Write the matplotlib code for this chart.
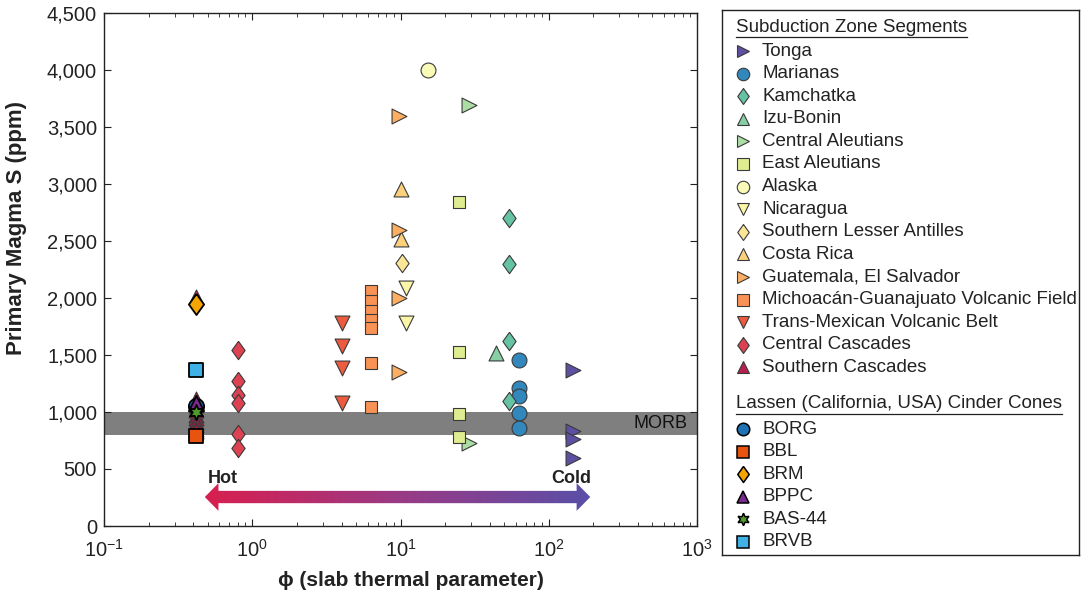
import numpy as np
import matplotlib
matplotlib.use('Agg')
import matplotlib.pyplot as plt
from matplotlib.patches import Polygon
from matplotlib.colors import LinearSegmentedColormap
from matplotlib.ticker import FuncFormatter

plt.rcParams['font.family'] = ['Liberation Sans', 'DejaVu Sans']
plt.rcParams['mathtext.fontset'] = 'custom'
plt.rcParams['mathtext.rm'] = 'Liberation Sans'
plt.rcParams['mathtext.it'] = 'Liberation Sans:italic'
plt.rcParams['mathtext.bf'] = 'Liberation Sans:bold'

# Segmentos de zona de subducção: phi (parâmetro térmico) e S do magma primário (ppm)
segmentos = ['Tonga', 'Marianas', 'Kamchatka', 'Izu-Bonin', 'Central Aleutians',
             'East Aleutians', 'Alaska', 'Nicaragua', 'Southern Lesser Antilles',
             'Costa Rica', 'Guatemala, El Salvador', 'Michoacán-Guanajuato Volcanic Field',
             'Trans-Mexican Volcanic Belt', 'Central Cascades', 'Southern Cascades']
seg_phi = [146, 63, 54, 44, 29, 24.8, 15.3, 10.9, 10.3, 10.0, 9.8, 6.3, 4.0, 0.80, 0.42]
seg_s = [
    [1370, 830, 760, 600],
    [1460, 1210, 1140, 995, 860],
    [2700, 2300, 1625, 1095],
    [1520],
    [3690, 730],
    [2840, 1530, 985, 780],
    [4000],
    [2090, 1780],
    [2310],
    [2960, 2520],
    [3600, 2600, 2000, 1350],
    [2060, 1975, 1890, 1805, 1735, 1430, 1045],
    [1780, 1580, 1390, 1080],
    [1545, 1275, 1150, 1080, 810, 685],
    [2010, 1110, 1060, 1020, 975, 945, 915, 885, 855, 830],
]
seg_cores = ['#5e4fa2', '#3288bd', '#66c2a5', '#88cfa4', '#abdda4', '#e0ec90',
             '#fafab8', '#fbf5a8', '#fbe596', '#fdd17c', '#fdae61', '#f99255',
             '#ec5b40', '#dc4252', '#b5204e']

# diamante um pouco mais alto que largo
losango = [(0, 1), (0.72, 0), (0, -1), (-0.72, 0), (0, 1)]
estrela6 = (6, 1, 0)
seg_marcadores = ['>', 'o', losango, '^', '>', 's', 'o', 'v', losango, '^', '>', 's',
                  'v', losango, '^']

# Cones de cinza de Lassen (Califórnia)
lassen = ['BORG', 'BBL', 'BRM', 'BPPC', 'BAS-44', 'BRVB']
lassen_phi = [0.42, 0.42, 0.42, 0.42, 0.42, 0.42]
lassen_s = [1050, 790, 1950, 1080, 1000, 1370]
lassen_cores = ['#1f72b4', '#e8530f', '#f5a500', '#7a2a8c', '#4e9a2a', '#3fb1e5']
lassen_marcadores = ['o', 's', losango, '^', estrela6, 's']

morb = (800, 1000)

# tamanho de cada marcador (área do scatter / markersize da legenda)
area = {'s': 85, 'o': 115, '^': 115, 'v': 115, '>': 115}
def tam(m, lassen=False):
    if m is losango:
        return 230 if lassen else 175
    if m is estrela6:
        return 120
    a = area[m]
    return a * 1.0 if not lassen else a * 1.05

def ms_leg(m):
    if m is losango:
        return 11.5
    if m == 's':
        return 8
    return 9

fig = plt.figure(figsize=(10.83, 5.99), dpi=100)
ax = fig.add_axes([104/1083, 1-526/599, 593/1083, 513/599])

ax.axhspan(morb[0], morb[1], color='#7f7f7f', lw=0, zorder=1)
ax.text(570, np.mean(morb), 'MORB', ha='center', va='center', fontsize=13,
        color='#111111', zorder=2)

for nome, phi, s, cor, m in zip(segmentos, seg_phi, seg_s, seg_cores, seg_marcadores):
    ax.scatter([phi]*len(s), s, marker=m, s=tam(m), c=cor, edgecolors='#3a3a3a',
               linewidths=0.8, zorder=3)

for nome, phi, s, cor, m in zip(lassen, lassen_phi, lassen_s, lassen_cores, lassen_marcadores):
    ax.scatter([phi], [s], marker=m, s=tam(m, True), c=cor,
               edgecolors='black', linewidths=1.3, zorder=4)

ax.set_xscale('log')
ax.set_xlim(0.1, 1000)
ax.set_ylim(0, 4500)
ax.set_yticks(np.arange(0, 4501, 500))
ax.yaxis.set_major_formatter(FuncFormatter(lambda v, p: f'{int(v):,}'))
ax.tick_params(which='both', direction='in', top=True, right=True, colors='#222222')
ax.tick_params(which='major', length=5, labelsize=14.5)
ax.tick_params(axis='y', pad=5)
ax.tick_params(axis='x', pad=9)
ax.tick_params(which='minor', length=3)
for sp in ax.spines.values():
    sp.set_linewidth(1.0)
    sp.set_color('#222222')

ax.set_ylabel('Primary Magma S (ppm)', fontsize=16, fontweight='bold', color='#222222')
ax.yaxis.set_label_coords(-0.13, 0.58)
ax.set_xlabel('\u03d5 (slab thermal parameter)', fontsize=15, fontweight='bold',
              color='#222222')
ax.xaxis.set_label_coords(0.518, -0.087)

# seta dupla com gradiente quente -> frio (coordenadas do eixo)
x0, x1, yc = 0.170, 0.820, 0.0565
hs, hh, hl = 0.012, 0.027, 0.023
pts = [(x0, yc), (x0+hl, yc+hh), (x0+hl, yc+hs), (x1-hl, yc+hs), (x1-hl, yc+hh),
       (x1, yc), (x1-hl, yc-hh), (x1-hl, yc-hs), (x0+hl, yc-hs), (x0+hl, yc-hh)]
seta = Polygon(pts, closed=True, transform=ax.transAxes, facecolor='none',
               edgecolor='none')
ax.add_patch(seta)
grad_cmap = LinearSegmentedColormap.from_list('quente_frio', ['#d81f4f', '#9a3a85', '#5a4fa8'])
im = ax.imshow(np.linspace(0, 1, 256).reshape(1, -1), cmap=grad_cmap, aspect='auto',
               extent=[x0, x1, yc-hh, yc+hh], transform=ax.transAxes, zorder=2)
im.set_clip_path(seta)
ax.set_xlim(0.1, 1000)
ax.set_ylim(0, 4500)
ax.text(0.2, 0.092, 'Hot', transform=ax.transAxes, ha='center', va='center',
        fontsize=13, fontweight='bold', color='#222222')
ax.text(0.788, 0.092, 'Cold', transform=ax.transAxes, ha='center', va='center',
        fontsize=13, fontweight='bold', color='#222222')

# legenda montada à mão numa caixa separada (coordenadas em pixels da caixa)
lg = fig.add_axes([722/1083, 1-555/599, 357/1083, 545/599])
lg.set_xlim(0, 357)
lg.set_ylim(545, 0)
lg.set_xticks([])
lg.set_yticks([])
for sp in lg.spines.values():
    sp.set_linewidth(1.0)
    sp.set_color('#222222')

mx, tx = 21, 40
fs_leg = 13.5
titulos = []
titulos.append(lg.text(14, 17, 'Subduction Zone Segments', fontsize=fs_leg, va='center',
                       color='#222222'))
for i, (nome, cor, m) in enumerate(zip(segmentos, seg_cores, seg_marcadores)):
    y = 41 + i*22.6
    lg.plot([mx], [y], marker=m, ms=ms_leg(m), color=cor, mec='#3a3a3a', mew=0.8, ls='none')
    lg.text(tx, y, nome, fontsize=fs_leg, va='center', color='#222222')
titulos.append(lg.text(14, 394, 'Lassen (California, USA) Cinder Cones', fontsize=fs_leg,
                       va='center', color='#222222'))
for i, (nome, cor, m) in enumerate(zip(lassen, lassen_cores, lassen_marcadores)):
    y = 419 + i*22.6
    lg.plot([mx], [y], marker=m, ms=ms_leg(m), color=cor, mec='black', mew=1.1, ls='none')
    lg.text(tx, y, nome, fontsize=fs_leg, va='center', color='#222222')

# sublinhado dos títulos da legenda
fig.canvas.draw()
inv = lg.transData.inverted()
for t in titulos:
    bb = t.get_window_extent()
    (xa, ya), (xb, yb) = inv.transform([(bb.x0, bb.y0), (bb.x1, bb.y0)])
    lg.plot([xa, xb], [ya + 1, ya + 1], color='#222222', lw=0.9)

fig.savefig('out.png', dpi=100)
